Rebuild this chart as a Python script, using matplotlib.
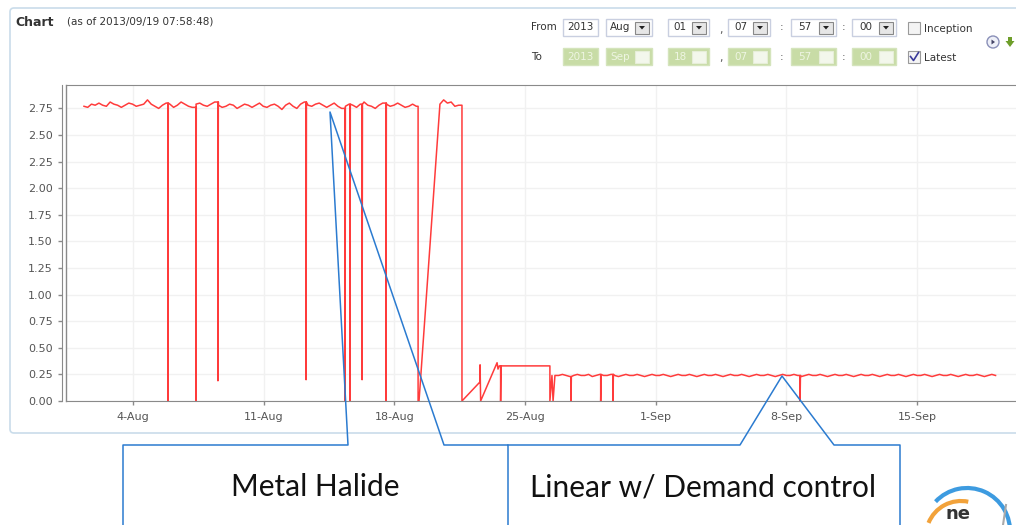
import numpy as np
import matplotlib
matplotlib.use("Agg")
import matplotlib.pyplot as plt
from matplotlib.patches import Rectangle, FancyBboxPatch, Circle, Arc, Polygon

# ---- data (days since 2013-08-01 00:00) ----
tick_days = [3, 10, 17, 24, 31, 38, 45]
tick_labels = ["4-Aug", "11-Aug", "18-Aug", "25-Aug", "1-Sep", "8-Sep", "15-Sep"]
y_ticks = [0.0, 0.25, 0.5, 0.75, 1.0, 1.25, 1.5, 1.75, 2.0, 2.25, 2.5, 2.75]

# metal halide readings, every 0.2 day from day 0.375
mh_start, mh_step = 0.375, 0.2
mh_vals = [2.77, 2.76, 2.79, 2.78, 2.80, 2.78, 2.77, 2.81, 2.79, 2.78,
           2.76, 2.78, 2.80, 2.79, 2.77, 2.78, 2.79, 2.83, 2.79, 2.77,
           2.75, 2.78, 2.80, 2.79, 2.76, 2.78, 2.81, 2.79, 2.77, 2.76,
           2.79, 2.80, 2.78, 2.77, 2.79, 2.81, 2.78, 2.76, 2.77, 2.79,
           2.78, 2.75, 2.77, 2.79, 2.78, 2.76, 2.78, 2.80, 2.77, 2.76,
           2.78, 2.79, 2.77, 2.74, 2.78, 2.80, 2.77, 2.75, 2.79, 2.81,
           2.78, 2.77, 2.79, 2.80, 2.78, 2.76, 2.78, 2.80, 2.77, 2.75,
           2.77, 2.79, 2.78, 2.76, 2.79, 2.81, 2.78, 2.77, 2.75, 2.78,
           2.80, 2.79, 2.77, 2.78, 2.80, 2.78, 2.76, 2.77, 2.79, 2.77]
mh_drop_days = [4.87, 6.37, 7.55, 12.27, 14.36, 14.62, 15.27, 16.55]
mh_drop_vals = [0.0, 0.0, 0.19, 0.20, 0.0, 0.0, 0.20, 0.0]

# outage and short second metal halide run
gap_days = [18.27, 18.27, 18.32]
gap_vals = [2.77, 0.0, 0.0]
mh2_start = 19.44
mh2_vals = [2.79, 2.83, 2.80, 2.81, 2.77, 2.78]

# switch-over period
sw_days = [20.62, 20.62, 21.59, 21.59, 21.62, 22.50, 22.55, 22.62, 22.69, 22.69,
           22.71, 25.33, 25.33, 25.44, 25.50]
sw_vals = [2.78, 0.0, 0.18, 0.34, 0.0, 0.36, 0.30, 0.33, 0.33, 0.0,
           0.33, 0.33, 0.0, 0.24, 0.0]

# linear w/ demand control readings, every 0.2 day from day 25.6
lin_start, lin_step = 25.6, 0.2
lin_vals = [0.24, 0.24, 0.25, 0.24, 0.23, 0.24, 0.25, 0.24, 0.24, 0.25,
            0.23, 0.24, 0.25, 0.24, 0.24, 0.25, 0.24, 0.23, 0.24, 0.25,
            0.24, 0.24, 0.25, 0.24, 0.23, 0.24, 0.25, 0.24, 0.24, 0.25,
            0.24, 0.23, 0.24, 0.25, 0.24, 0.24, 0.25, 0.24, 0.23, 0.24,
            0.25, 0.24, 0.24, 0.25, 0.24, 0.23, 0.24, 0.25, 0.24, 0.24,
            0.25, 0.24, 0.23, 0.24, 0.25, 0.24, 0.24, 0.25, 0.24, 0.23,
            0.24, 0.25, 0.24, 0.24, 0.25, 0.24, 0.23, 0.24, 0.25, 0.24,
            0.24, 0.25, 0.24, 0.23, 0.24, 0.25, 0.24, 0.24, 0.25, 0.24,
            0.23, 0.24, 0.25, 0.24, 0.24, 0.25, 0.24, 0.23, 0.24, 0.25,
            0.24, 0.24, 0.25, 0.24, 0.23, 0.24, 0.25, 0.24, 0.24, 0.25,
            0.24, 0.23, 0.24, 0.25, 0.24, 0.24, 0.25, 0.24, 0.23, 0.24,
            0.25, 0.24, 0.24, 0.25, 0.24, 0.23, 0.24, 0.25, 0.24]
lin_drop_days = [26.46, 28.05, 28.71, 38.73]
lin_drop_vals = [0.0, 0.0, 0.0, 0.0]


def regular(start, step, vals):
    return list(start + step * np.arange(len(vals))), list(vals)


def with_drops(t, v, drop_t, drop_v):
    t, v = list(t), list(v)
    for td, fv in zip(drop_t, drop_v):
        i = int(np.searchsorted(t, td))
        base = v[i - 1]
        t[i:i] = [td, td, td + 0.02]
        v[i:i] = [base, fv, base]
    return t, v


t1, v1 = with_drops(*regular(mh_start, mh_step, mh_vals), mh_drop_days, mh_drop_vals)
t2, v2 = regular(mh2_start, mh_step, mh2_vals)
t3, v3 = with_drops(*regular(lin_start, lin_step, lin_vals), lin_drop_days, lin_drop_vals)
days = t1 + gap_days + t2 + sw_days + t3
power = v1 + gap_vals + v2 + sw_vals + v3

# ---- figure ----
W, H = 1016, 525
fig = plt.figure(figsize=(W / 100, H / 100), dpi=100)
fig.patch.set_facecolor("white")

# pixel-space background layer
bg = fig.add_axes([0, 0, 1, 1], zorder=0)
bg.set_xlim(0, W)
bg.set_ylim(H, 0)
bg.axis("off")
bg.add_patch(FancyBboxPatch((10, 8), 1020, 425, boxstyle="round,pad=0,rounding_size=4",
                            fc="white", ec="#c9dcea", lw=1.2))

# chart axes
px = 18.67  # pixels per day
x0 = 3 - (133 - 66) / px
x1 = 3 + (W - 133) / px
ax = fig.add_axes([66 / W, (H - 401) / H, (W - 66) / W, (401 - 85) / H], zorder=2)
ax.plot(days, power, color="#ff3b3b", lw=1.1)
ax.set_xlim(x0, x1)
ax.set_ylim(0, 2.97)
ax.set_xticks(tick_days)
ax.set_xticklabels(tick_labels)
ax.set_yticks(y_ticks)
ax.set_yticklabels(["%.2f" % y for y in y_ticks])
ax.grid(True, color="#f1f1f1", lw=1)
ax.set_axisbelow(True)
for s in ["top", "bottom"]:
    ax.spines[s].set_color("#8a8a8a")
ax.spines["right"].set_visible(False)
ax.spines["left"].set_color("#8a8a8a")
ax.spines["left"].set_position(("outward", 3))
ax.plot([x0, x0], [0, 2.97], color="#8a8a8a", lw=1, clip_on=False)
ax.tick_params(axis="both", colors="#8a8a8a", labelcolor="#555555", labelsize=8,
               length=3, width=1)
ax.tick_params(axis="x", pad=5)

# overlay layer: header, controls, callouts
ov = fig.add_axes([0, 0, 1, 1], zorder=3)
ov.set_xlim(0, W)
ov.set_ylim(H, 0)
ov.axis("off")
ov.patch.set_alpha(0)

ov.text(15, 22, "Chart", fontsize=9, fontweight="bold", color="#333333", va="center")
ov.text(67, 22, "(as of 2013/09/19 07:58:48)", fontsize=7.5, color="#333333", va="center")


def field(xa, xb, y, label, arrow, active):
    fc = "white" if active else "#c8dca6"
    ec = "#c9cfe0" if active else "#d4e4bc"
    tc = "#333333" if active else "#eef5e2"
    ov.add_patch(Rectangle((xa, y - 8.5), xb - xa, 17, fc=fc, ec=ec, lw=1))
    if arrow:
        ov.add_patch(Rectangle((xb - 17, y - 6), 14, 12,
                               fc="#e6e6e6" if active else "#f3f7ec",
                               ec="#888888" if active else "#e6eed8", lw=0.8))
        if active:
            ov.add_patch(Polygon([(xb - 13, y - 1.5), (xb - 7, y - 1.5), (xb - 10, y + 2)],
                                 closed=True, fc="#222222", ec="none"))
        tx = xa + (xb - 17 - xa) / 2
    else:
        tx = (xa + xb) / 2
    ov.text(tx, y, label, fontsize=7.5, color=tc, ha="center", va="center")


from_vals = ["2013", "Aug", "01", "07", "57", "00"]
to_vals = ["2013", "Sep", "18", "07", "57", "00"]
field_x = [(563, 598), (606, 652), (668, 709), (728, 770), (791, 836), (852, 896)]
for row_y, vals, active in [(27.5, from_vals, True), (56.5, to_vals, False)]:
    for (xa, xb), lab in zip(field_x, vals):
        field(xa, xb, row_y, lab, xa > 600, active)
    ov.text(721, row_y + 2, ",", fontsize=8, color="#555555", ha="center", va="center")
    ov.text(782, row_y, ":", fontsize=8, color="#555555", ha="center", va="center")
    ov.text(844, row_y, ":", fontsize=8, color="#555555", ha="center", va="center")
ov.text(531, 27.5, "From", fontsize=7.5, color="#333333", va="center")
ov.text(531, 56.5, "To", fontsize=7.5, color="#333333", va="center")
ov.add_patch(Rectangle((908, 22), 12, 12, fc="#f4f4f4", ec="#9a9a9a", lw=0.8))
ov.text(924, 29, "Inception", fontsize=7.5, color="#333333", va="center")
ov.add_patch(Rectangle((908, 51), 12, 12, fc="#f4f4f4", ec="#9a9a9a", lw=0.8))
ov.plot([910.5, 913.5, 918.5], [56.5, 60.5, 52.5], color="#3a3a9a", lw=1.2)
ov.text(924, 58, "Latest", fontsize=7.5, color="#333333", va="center")
ov.add_patch(Circle((993, 42), 6, fc="#eef0f8", ec="#8a90b8", lw=1))
ov.add_patch(Polygon([(991.5, 39.5), (991.5, 44.5), (995, 42)], closed=True,
                     fc="#444466", ec="none"))
ov.add_patch(Polygon([(1008, 37), (1012, 37), (1012, 41), (1014.5, 41), (1010, 47),
                      (1005.5, 41), (1008, 41)], closed=True, fc="#6e9e2a", ec="none"))

# callouts
blue = "#2b7bd0"
ov.plot([123, 123, 348, 330, 444, 508, 508], [530, 445, 445, 112, 445, 445, 530],
        color=blue, lw=1.1, clip_on=False)
ov.plot([508, 740, 782, 834, 900, 900], [445, 445, 376, 445, 445, 530],
        color=blue, lw=1.1, clip_on=False)
ov.text(315, 487, "Metal Halide", fontsize=21.5, family="Lato", color="#111111",
        ha="center", va="center")
ov.text(703, 487, "Linear w/ Demand control", fontsize=21.5, family="Lato",
        color="#111111", ha="center", va="center")

# logo fragment (y axis points down here, so angles are negated)
ov.add_patch(Arc((967, 531), 86, 86, theta1=-137, theta2=5, color="#3d9be0", lw=3))
ov.add_patch(Arc((961, 536), 70, 70, theta1=-158, theta2=-78, color="#f2a23a", lw=3))
ov.text(958, 514, "ne", fontsize=13, fontweight="bold", color="#333333",
        ha="center", va="center")
ov.plot([1003, 1006], [525, 505], color="#aaaaaa", lw=1.5)

fig.savefig("out.png", dpi=100)
